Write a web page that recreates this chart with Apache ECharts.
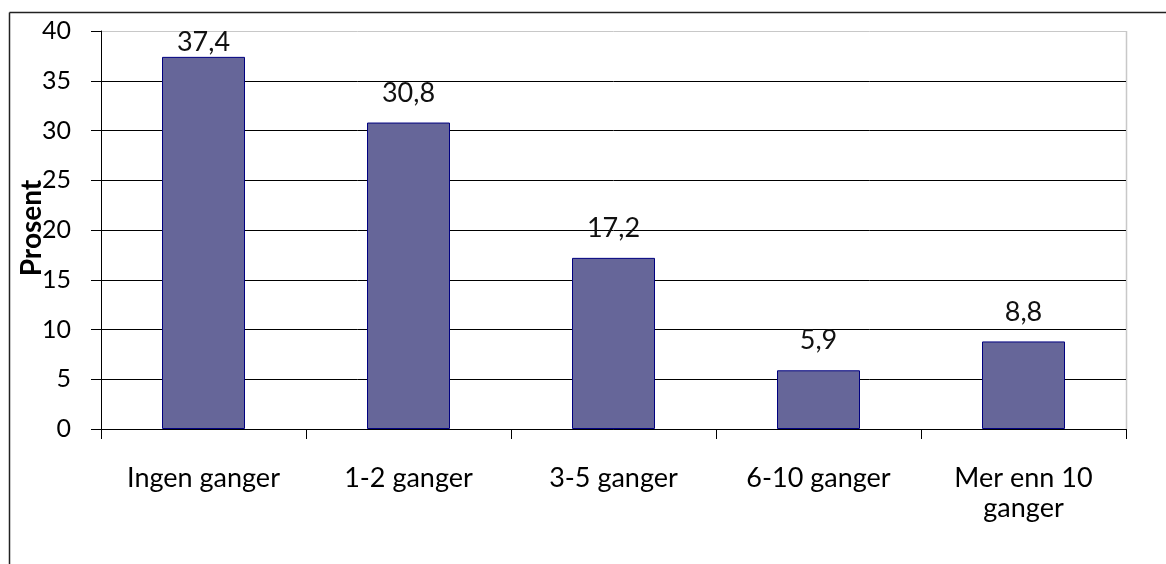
<!DOCTYPE html>
<html><head><meta charset="utf-8">
<script src="https://cdn.jsdelivr.net/npm/echarts@6/dist/echarts.min.js"></script>
<style>html,body{margin:0;padding:0;background:#fff}#c{width:1166px;height:564px}</style>
</head><body><div id="c"></div>
<script>
const categories = ['Ingen ganger', '1-2 ganger', '3-5 ganger', '6-10 ganger', 'Mer enn 10\nganger'];
const values = [37.4, 30.8, 17.2, 5.9, 8.8];
const yTicks = [0, 5, 10, 15, 20, 25, 30, 35, 40];
const yTitle = 'Prosent';

const chart = echarts.init(document.getElementById('c'), null, {renderer: 'canvas'});
const font = 'Lato, "Open Sans", sans-serif';
const yMax = 40, plotTop = 31, plotBottom = 429;
// label gap above bar, clamped so label stays inside plot area (like the original)
const seriesData = values.map(v => {
  const barTopPx = plotBottom - v / yMax * (plotBottom - plotTop);
  const dist = Math.max(1, Math.min(16, barTopPx - plotTop - 25));
  return {value: v, label: {distance: dist}};
});
chart.setOption({
  animation: false,
  backgroundColor: '#fff',
  graphic: [
    {type: 'line', shape: {x1: 9.5, y1: 12.5, x2: 1166, y2: 12.5}, style: {stroke: '#222', lineWidth: 1.5}},
    {type: 'line', shape: {x1: 9.5, y1: 12.5, x2: 9.5, y2: 564}, style: {stroke: '#222', lineWidth: 1.5}},
    {type: 'line', shape: {x1: 1126.5, y1: 31, x2: 1126.5, y2: 429}, style: {stroke: '#c8c8c8', lineWidth: 1.5}},
    {type: 'text', x: 32, y: 228, rotation: Math.PI / 2, z: 100, style: {text: yTitle, font: 'bold 28px ' + font, fill: '#000', align: 'center', verticalAlign: 'middle'}}
  ],
  grid: {left: 101, right: 40, top: plotTop, bottom: 564 - plotBottom, containLabel: false},
  xAxis: {
    type: 'category', data: categories,
    axisLine: {lineStyle: {color: '#000', width: 1}},
    axisTick: {show: true, length: 10, lineStyle: {color: '#000'}},
    axisLabel: {color: '#000', fontSize: 27, fontFamily: font, margin: 34, lineHeight: 30, interval: 0}
  },
  yAxis: {
    type: 'value', min: 0, max: yMax, interval: 5,
    axisLine: {show: true, lineStyle: {color: '#000', width: 1}},
    axisTick: {show: true, length: 10, lineStyle: {color: '#000'}},
    axisLabel: {color: '#000', fontSize: 25, fontFamily: font, margin: 30,
      formatter: v => yTicks.includes(v) ? String(v) : ''},
    splitLine: {show: true, lineStyle: {color: ['#000','#000','#000','#000','#000','#000','#000','#000','#c8c8c8'], width: 1}}
  },
  series: [{
    type: 'bar', data: seriesData, barWidth: 83,
    itemStyle: {color: '#666699', borderColor: '#000080', borderWidth: 1},
    label: {show: true, position: 'top', color: '#111', fontSize: 27, fontFamily: font,
      formatter: p => String(p.value).replace('.', ',')}
  }]
});
</script></body></html>
